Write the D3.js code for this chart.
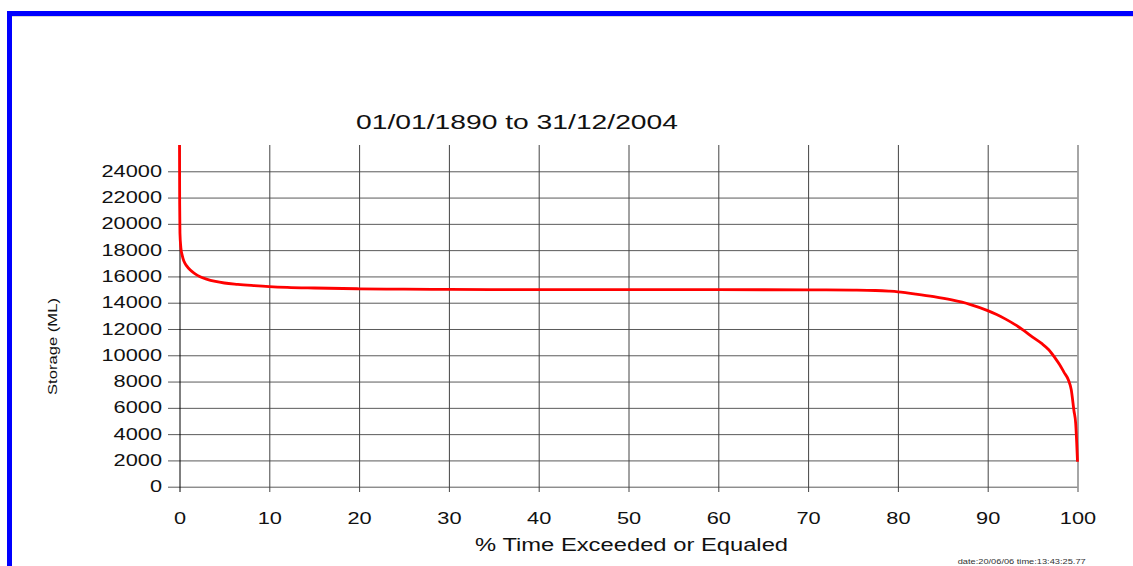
<!DOCTYPE html>
<html>
<head>
<meta charset="utf-8">
<script src="https://cdn.jsdelivr.net/npm/d3@7"></script>
<style>
  body { margin: 0; background: #fff; }
  svg { display: block; }
</style>
</head>
<body>
<svg id="chart" width="1133" height="566"></svg>
<script>
// Storage duration curve

var pctExceeded = [0, 0.02, 0.05, 0.15, 0.3, 0.5, 0.8, 1.2, 1.7, 2.3, 3, 4, 5, 6.5, 8, 10, 12, 15, 20, 25,
    30, 40, 50, 60, 70, 75, 77.5, 79, 80, 81, 82, 84, 86, 88, 90, 91, 92, 93, 94, 95, 96, 96.8,
    97.5, 98, 98.5, 99, 99.3, 99.6, 99.8, 100];
var storageML = [26000, 21500, 19300, 18200, 17600, 17150, 16800, 16480, 16220, 15980, 15800, 15620, 15500, 15400, 15320, 15230, 15170, 15120, 15060, 15030,
    15010, 15000, 15000, 14990, 14980, 14960, 14930, 14880, 14830, 14750, 14660, 14460, 14210, 13880, 13400, 13100, 12750, 12350, 11900, 11380, 10900, 10420,
    9800, 9300, 8700, 8100, 7400, 5800, 4800, 1900];

var xTicks = [0, 10, 20, 30, 40, 50, 60, 70, 80, 90, 100];
var yTicks = [0, 2000, 4000, 6000, 8000, 10000, 12000, 14000, 16000, 18000, 20000, 22000, 24000];

var titleText = "01/01/1890 to 31/12/2004";
var xLabel = "% Time Exceeded or Equaled";
var yLabel = "Storage (ML)";
var stampText = "date:20/06/06 time:13:43:25.77";

var fontFam = "'Liberation Sans', Arial, sans-serif";

var svg = d3.select("#chart");

// blue frame (top and left edges)
svg.append("rect").attr("x", 7).attr("y", 11).attr("width", 1126).attr("height", 5).attr("fill", "#0000ff");
svg.append("rect").attr("x", 7).attr("y", 11).attr("width", 5).attr("height", 555).attr("fill", "#0000ff");
svg.append("line").attr("x1", 12).attr("x2", 1133).attr("y1", 16.5).attr("y2", 16.5)
    .attr("stroke", "#d8d8d8").attr("stroke-width", 1);

var x = d3.scaleLinear().domain([0, 100]).range([179.5, 1077.5]);
var y = d3.scaleLinear().domain([0, 26000]).range([486.7, 145]);

var tickLeft = 168, tickBottom = 492;

function stretch(sel, k) {
    sel.each(function () {
        var w = this.getComputedTextLength();
        d3.select(this).attr("textLength", w * k).attr("lengthAdjust", "spacingAndGlyphs");
    });
}

// horizontal grid + y labels
var gy = svg.append("g")
    .attr("transform", "translate(" + tickLeft + ",0)")
    .call(d3.axisLeft(y).tickValues(yTicks).tickSize(-(x(100) - tickLeft)).tickPadding(6).tickFormat(d3.format("d")));
gy.select(".domain").remove();
gy.selectAll("line").attr("stroke", "#5a5a5a").attr("stroke-width", 1);
gy.selectAll("text")
    .attr("font-family", fontFam)
    .attr("font-size", "16px")
    .attr("fill", "#111");
stretch(gy.selectAll("text"), 1.36);

// vertical grid + x labels
var gx = svg.append("g")
    .attr("transform", "translate(0," + tickBottom + ")")
    .call(d3.axisBottom(x).tickValues(xTicks).tickSize(-(tickBottom - y(26000))).tickPadding(20.5));
gx.select(".domain").remove();
gx.selectAll("line").attr("stroke", "#444").attr("stroke-width", 1);
gx.selectAll(".tick").filter(function (d) { return d === 0; }).select("line").attr("stroke", "#000");
gx.selectAll(".tick").filter(function (d) { return d === 100; }).select("line")
    .attr("stroke", "#888").attr("stroke-width", 1.5);
gx.selectAll("text")
    .attr("font-family", fontFam)
    .attr("font-size", "16px")
    .attr("fill", "#111");
stretch(gx.selectAll("text"), 1.36);

// curve
var pts = pctExceeded.map(function (p, i) { return [p, storageML[i]]; });
svg.append("path")
    .datum(pts)
    .attr("fill", "none")
    .attr("stroke", "#ff0000")
    .attr("stroke-width", 2.8)
    .attr("stroke-linejoin", "round")
    .attr("d", d3.line()
        .curve(d3.curveMonotoneX)
        .x(function (d) { return x(d[0]); })
        .y(function (d) { return y(d[1]); }));

// title
svg.append("text")
    .attr("x", 517)
    .attr("y", 129.3)
    .attr("text-anchor", "middle")
    .attr("font-family", fontFam)
    .attr("font-size", "20px")
    .attr("fill", "#111")
    .attr("textLength", 322)
    .attr("lengthAdjust", "spacingAndGlyphs")
    .text(titleText);

// x axis title
svg.append("text")
    .attr("x", 631.6)
    .attr("y", 551)
    .attr("text-anchor", "middle")
    .attr("font-family", fontFam)
    .attr("font-size", "17.5px")
    .attr("fill", "#111")
    .attr("textLength", 313)
    .attr("lengthAdjust", "spacingAndGlyphs")
    .text(xLabel);

// y axis title
svg.append("text")
    .attr("transform", "translate(57.3,346.5) rotate(-90)")
    .attr("text-anchor", "middle")
    .attr("font-family", fontFam)
    .attr("font-size", "12px")
    .attr("fill", "#111")
    .attr("textLength", 97)
    .attr("lengthAdjust", "spacingAndGlyphs")
    .text(yLabel);

// timestamp
svg.append("text")
    .attr("x", 957.7)
    .attr("y", 564)
    .attr("font-family", fontFam)
    .attr("font-size", "7px")
    .attr("fill", "#333")
    .attr("textLength", 128)
    .attr("lengthAdjust", "spacingAndGlyphs")
    .text(stampText);
</script>
</body>
</html>
